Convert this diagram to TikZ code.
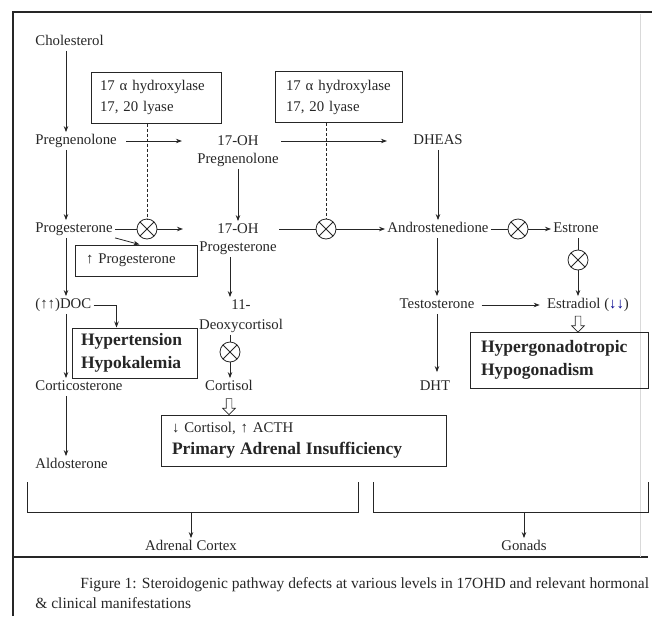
\documentclass[tikz,border=0pt]{standalone}
\usepackage{fontspec}
\setmainfont{Liberation Serif}
\usetikzlibrary{arrows.meta,shapes.arrows,calc}

\newcommand{\txtsize}{\fontsize{14.8}{18}\selectfont}
\newcommand{\boldsize}{\fontsize{17.5}{23}\selectfont\bfseries}

\begin{document}
\begin{tikzpicture}[
            x = 1pt, y = -1pt, % one unit = one pixel of the figure
            > = {Stealth[length=6pt, width=4.5pt]}, % arrow head style
            line width = 0.8pt,
            color = black!85,
        ]

        \tikzstyle{hormone}=[inner sep = 2pt, font = \txtsize, text height = 10pt, text depth = 3pt]
        \tikzstyle{hormone2}=[inner sep = 2pt, font = \txtsize, align = center]
        \tikzstyle{enzyme}=[draw, line width = 1pt, align = left, font = \fontsize{14.8}{21}\selectfont, minimum height = 51pt]
        \tikzstyle{blocked}=[circle, draw, minimum size = 20pt, inner sep = 0pt,
            path picture = {\draw (path picture bounding box.north west) -- (path picture bounding box.south east)
                (path picture bounding box.south west) -- (path picture bounding box.north east);}]
        \tikzstyle{effect}=[draw, line width = 1pt, align = left]
        \tikzstyle{hollow}=[single arrow, draw, line width = 0.7pt, rotate = -90, inner sep = 2.5pt,
            single arrow head extend = 3.5pt, minimum height = 16pt]

  \useasboundingbox (0, 0) rectangle (652, 616);

  % frame of the figure
  \draw[line width = 1.4pt] (13, 616) -- (13, 12) -- (652, 12);
  \draw[line width = 1.2pt] (13, 557) -- (648, 557);
  \draw[black!15] (640, 14) -- (640, 557);

  \coordinate (c1) at (66, 0);
  \coordinate (c2) at (230, 0);
  \coordinate (c3) at (437, 0);

  % hormones
  \node[hormone, anchor = west] (n_chol) at (33, 42) {Cholesterol};
  \node[hormone, anchor = west] (n_preg) at (33, 141) {Pregnenolone};
  \node[hormone, anchor = west] (n_prog) at (33, 229) {Progesterone};
  \node[hormone, anchor = west] (n_doc) at (33, 305) {(↑↑)DOC};
  \node[hormone, anchor = west] (n_cortico) at (33, 387) {Corticosterone};
  \node[hormone, anchor = west] (n_aldo) at (33, 465) {Aldosterone};

  \node[hormone2] (n_ohpreg) at (238, 151) {17-OH\\Pregnenolone};
  \node[hormone2] (n_ohprog) at (238, 239) {17-OH\\Progesterone};
  \node[hormone2, font = \fontsize{14.8}{20}\selectfont] (n_deoxy) at (241, 316) {11-\\Deoxycortisol};
  \node[hormone] (n_cortisol) at (229, 387) {Cortisol};

  \node[hormone] (n_dheas) at (438, 141) {DHEAS};
  \node[hormone] (n_andro) at (438, 229) {Androstenedione};
  \node[hormone] (n_testo) at (437, 305) {Testosterone};
  \node[hormone] (n_dht) at (435, 387) {DHT};
  \node[hormone] (n_estrone) at (576, 229) {Estrone};
  \node[hormone] (n_estradiol) at (588, 305) {Estradiol ({\color{blue!55!black}↓↓})};

  % enzymes and blocks
  \node[enzyme, text width = 112pt, inner xsep = 9pt] (n_enz1) at (156, 97.5) {17 α hydroxylase\\17, 20 lyase};
  \node[enzyme, text width = 105pt, inner xsep = 11pt] (n_enz2) at (338.5, 97) {17 α hydroxylase\\17, 20 lyase};

  \node[blocked] (x1) at (147, 229) {};
  \node[blocked] (x2) at (326, 229) {};
  \node[blocked] (x3) at (518, 229) {};
  \node[blocked] (x4) at (578, 260) {};
  \node[blocked] (x5) at (230, 352) {};

  % clinical effects
  \node[effect, font = \txtsize, text width = 100pt, inner xsep = 11pt, minimum height = 31pt] (n_upprog) at (136, 260.5) {↑ Progesterone};
  \node[effect, font = \boldsize, text width = 107pt, inner xsep = 9pt, minimum height = 50pt] (n_hyp) at (134.5, 353) {Hypertension\\Hypokalemia};
  \node[effect, font = \boldsize, text width = 156pt, inner xsep = 11pt, minimum height = 56pt] (n_hypergo) at (559, 360) {Hypergonadotropic\\Hypogonadism};
  \node[effect, font = \txtsize, text width = 263pt, inner xsep = 11pt, minimum height = 51pt] (n_primary) at (303.5, 440.5) {↓ Cortisol, ↑ ACTH\\[4pt]{\boldsize Primary Adrenal Insufficiency}};

  \node[hollow] (h1) at ($(n_cortisol.south)!0.5!(n_primary.north -| n_cortisol.south)$) {};
  \node[hollow] (h2) at ($(n_estradiol.south -| x4)!0.5!(n_hypergo.north -| x4)$) {};

  % left column
  \path[->] (n_chol.south -| c1) edge (n_preg.north -| c1);
  \path[->] (n_preg.south -| c1) edge (n_prog.north -| c1);
  \path[->] (n_prog.south -| c1) edge (n_doc.north -| c1);
  \path[->] (n_doc.south -| c1) edge (n_cortico.north -| c1);
  \path[->] (n_cortico.south -| c1) edge (n_aldo.north -| c1);

  % across
  \draw[->, shorten <= 7pt, shorten >= 13pt] (n_preg.east) -- (n_preg.east -| n_ohpreg.west);
  \draw[->, shorten >= 24pt] (n_ohpreg.east |- n_dheas) -- (n_dheas.west);
  \draw (n_prog.east) -- (x1);
  \draw[->, shorten >= 14pt] (x1) -- (x1 -| n_ohprog.west);
  \draw[->] (n_prog.south east) -- ([xshift = 65pt]n_upprog.north west);
  \draw (n_ohprog.east |- x2) -- (x2);
  \path[->] (x2) edge (n_andro);
  \draw (n_andro) -- (x3);
  \path[->] (x3) edge (n_estrone);
  \draw[->, shorten <= 5pt, shorten >= 5pt] (n_testo) -- (n_estradiol.west);

  % blocked enzymes
  \draw[dash pattern = on 3pt off 2pt] (n_enz1.south -| x1) -- (x1);
  \draw[dash pattern = on 3pt off 2pt] (n_enz2.south -| x2) -- (x2);

  % down
  \path[->] (n_ohpreg.south) edge (n_ohprog.north);
  \path[->] (n_ohprog.south -| c2) edge (n_deoxy.north -| c2);
  \draw (n_deoxy.south -| x5) -- (x5);
  \path[->] (x5) edge (x5 |- n_cortisol.north);
  \path[->] (n_dheas) edge (n_andro);
  \path[->] (n_andro.south -| c3) edge (n_testo.north -| c3);
  \draw[->, shorten >= 6pt] (n_testo.south -| c3) -- (n_dht.north -| c3);
  \draw (n_estrone.south -| x4) -- (x4);
  \path[->] (x4) edge (x4 |- n_estradiol.north);
  \draw[->] (n_doc.east) -| ([xshift = 45pt]n_hyp.north west);

  % organs
  \draw[line width = 1pt] (27, 482) |- (358, 512) -- (358, 482);
  \draw[line width = 1pt] (373, 482) |- (648, 512) -- (648, 482);
  \coordinate (adr) at (191, 512);
  \coordinate (gon) at (524, 512);
  \node[hormone] (n_adrenal) at (191, 547) {Adrenal Cortex};
  \node[hormone] (n_gonads) at (524, 547) {Gonads};
  \path[->] (adr) edge (n_adrenal);
  \path[->] (gon) edge (n_gonads);

  % caption
  \node[hormone, anchor = west, font = \fontsize{15.5}{18}\selectfont] (n_cap1) at (78, 585) {Figure 1: Steroidogenic pathway defects at various levels in 17OHD and relevant hormonal};
  \node[hormone, anchor = west, font = \fontsize{15.5}{18}\selectfont] (n_cap2) at (33, 605) {\& clinical manifestations};

\end{tikzpicture}
\end{document}
